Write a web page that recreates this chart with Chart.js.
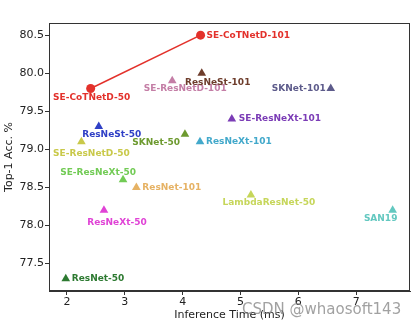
<!DOCTYPE html>
<html>
<head>
<meta charset="utf-8">
<script src="https://cdn.jsdelivr.net/npm/chart.js@4"></script>
<style>
  html, body { margin: 0; padding: 0; background: #fff; }
  #wrap { width: 415px; height: 326px; }
</style>
</head>
<body>
<div id="wrap"><canvas id="chart"></canvas></div>
<script>
// SE-CoTNetD family (connected line)
const cotNames = ['SE-CoTNetD-50', 'SE-CoTNetD-101'];
const cotTime = [2.41, 4.31];
const cotAcc = [79.8, 80.5];

// other backbones
const modelNames = [
    'SE-ResNetD-101', 'ResNeSt-101', 'SKNet-101', 'SE-ResNeXt-101', 'ResNeXt-101',
    'ResNeSt-50', 'SKNet-50', 'SE-ResNetD-50', 'SE-ResNeXt-50', 'ResNet-101',
    'ResNeXt-50', 'ResNet-50', 'LambdaResNet-50', 'SAN19'
];
const inferenceTime = [3.82, 4.33, 6.56, 4.85, 4.30, 2.55, 4.04, 2.25, 2.97, 3.20, 2.64, 1.98, 5.18, 7.63];
const top1Acc = [79.9, 80.0, 79.8, 79.4, 79.1, 79.3, 79.2, 79.1, 78.6, 78.5, 78.2, 77.3, 78.4, 78.2];

const xTicks = [2, 3, 4, 5, 6, 7];
const yTicks = [77.5, 78.0, 78.5, 79.0, 79.5, 80.0, 80.5];

const cotColor = '#e3312b';
const modelColors = [
    '#c47ea6', '#6e3d2c', '#5d5b8b', '#7b3cb6', '#43a9cb',
    '#3040c6', '#6d9a2f', '#c9c94a', '#72cb55', '#e6b264',
    '#e043d6', '#2d7a31', '#c6d65a', '#63c8c0'
];

// label placement: [align, dx, dy] in px from the marker
const cotLabelPos = [['center', 1, 9], ['left', 6, 0]];
const modelLabelPos = [
    ['center', 13, 8], ['center', 16, 9], ['right', -5, 0], ['left', 7, 0], ['left', 6, 0],
    ['center', 13, 8], ['right', -5, 8], ['center', 10, 12], ['right', 13, -7], ['left', 6, 0],
    ['center', 13, 12], ['left', 6, 0], ['center', 18, 8], ['center', -12, 8]
];

const labelPlugin = {
    id: 'pointLabels',
    afterDatasetsDraw(chart) {
        const { ctx, chartArea: a } = chart;
        ctx.save();
        // frame around the plot
        ctx.strokeStyle = '#333';
        ctx.lineWidth = 1;
        ctx.strokeRect(a.left + 0.5, a.top + 0.5, a.right - a.left - 1, a.bottom - a.top - 1);

        ctx.font = 'bold 9px "DejaVu Sans"';
        ctx.textBaseline = 'middle';
        const draw = (dsIndex, names, pos, colors) => {
            const meta = chart.getDatasetMeta(dsIndex);
            meta.data.forEach((pt, i) => {
                const [align, dx, dy] = pos[i];
                ctx.textAlign = align;
                ctx.fillStyle = Array.isArray(colors) ? colors[i] : colors;
                ctx.fillText(names[i], pt.x + dx, pt.y + dy);
            });
        };
        draw(0, cotNames, cotLabelPos, cotColor);
        draw(1, modelNames, modelLabelPos, modelColors);

        // watermark
        ctx.font = '15px "DejaVu Sans"';
        ctx.textAlign = 'left';
        ctx.fillStyle = 'rgba(130,130,130,0.75)';
        ctx.fillText('CSDN @whaosoft143', 242, 310);
        ctx.restore();
    }
};

new Chart(document.getElementById('chart'), {
    type: 'scatter',
    data: {
        datasets: [{
            data: cotTime.map((t, i) => ({ x: t, y: cotAcc[i] })),
            showLine: true,
            borderColor: cotColor,
            backgroundColor: cotColor,
            borderWidth: 1.5,
            pointStyle: 'circle',
            pointRadius: 4.5,
            pointBorderWidth: 0
        }, {
            data: inferenceTime.map((t, i) => ({ x: t, y: top1Acc[i] })),
            pointStyle: 'triangle',
            pointRadius: 5,
            pointBorderWidth: 0,
            backgroundColor: modelColors,
            borderColor: modelColors
        }]
    },
    options: {
        responsive: true, maintainAspectRatio: false, animation: false,
        layout: { padding: { top: 23, right: 4, left: 0, bottom: 0 } },
        plugins: { legend: { display: false }, tooltip: { enabled: false } },
        scales: {
            x: {
                min: 1.69, max: 7.93,
                afterBuildTicks: s => { s.ticks = xTicks.map(v => ({ value: v })); },
                afterFit: s => { s.height = 35; },
                ticks: { color: '#222', font: { family: 'DejaVu Sans', size: 11 }, padding: 1, maxRotation: 0 },
                grid: { drawOnChartArea: false, tickLength: 4, color: '#333' },
                border: { color: '#333' },
                title: { display: true, text: 'Inference Time (ms)', color: '#222',
                         font: { family: 'DejaVu Sans', size: 11 }, padding: { top: 0, bottom: 4 } }
            },
            y: {
                min: 77.14, max: 80.66,
                afterBuildTicks: s => { s.ticks = yTicks.map(v => ({ value: v })); },
                afterFit: s => { s.width = 49; },
                ticks: { color: '#222', font: { family: 'DejaVu Sans', size: 11 }, padding: 1,
                         callback: v => v.toFixed(1) },
                grid: { drawOnChartArea: false, tickLength: 4, color: '#333' },
                border: { color: '#333' },
                title: { display: true, text: 'Top-1 Acc. %', color: '#222',
                         font: { family: 'DejaVu Sans', size: 11 }, padding: { top: 3, bottom: 0 } }
            }
        }
    },
    plugins: [labelPlugin]
});
</script>
</body>
</html>
